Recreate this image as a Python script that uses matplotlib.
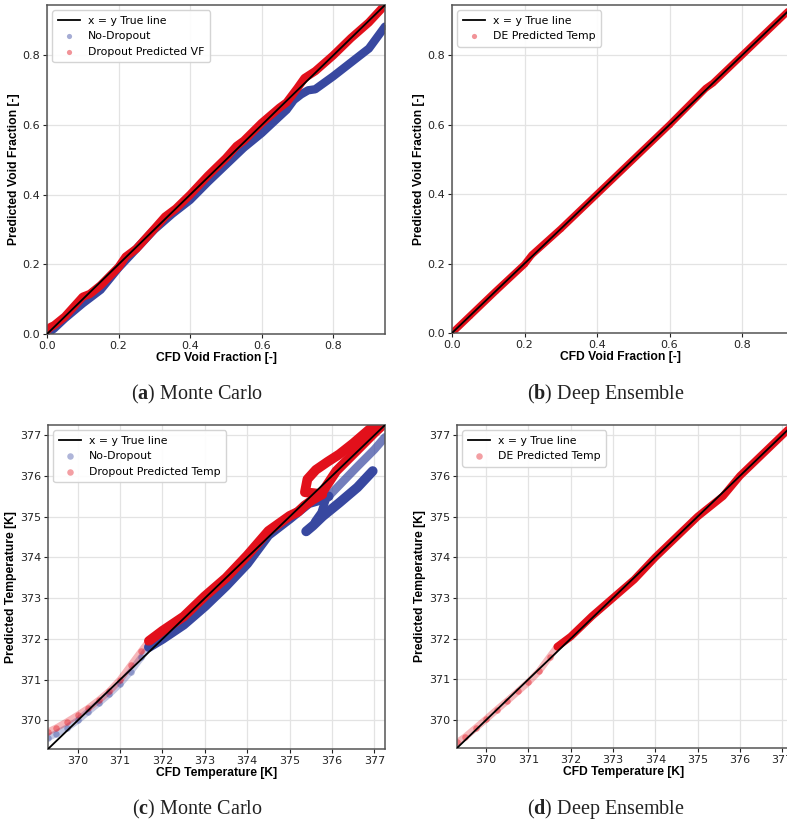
import matplotlib
matplotlib.use("Agg")
import matplotlib.pyplot as plt

plt.rcParams['font.family'] = ['DejaVu Sans']
plt.rcParams['mathtext.fontset'] = 'custom'
plt.rcParams['mathtext.rm'] = 'Liberation Serif'
plt.rcParams['mathtext.bf'] = 'Liberation Serif:bold'

# ---------------- data ----------------
# (a) Monte Carlo, void fraction
a_lim = [0.0, 0.945]
a_nodrop_x = [0.0, 0.02, 0.05, 0.1, 0.15, 0.2, 0.25, 0.3, 0.35, 0.4, 0.45, 0.5, 0.55, 0.6,
              0.65, 0.67, 0.69, 0.71, 0.73, 0.75, 0.8, 0.85, 0.9, 0.945]
a_nodrop_y = [0.0, 0.016, 0.045, 0.088, 0.127, 0.19, 0.245, 0.30, 0.345, 0.385, 0.437, 0.486,
              0.535, 0.577, 0.625, 0.644, 0.672, 0.688, 0.70, 0.703, 0.74, 0.78, 0.82, 0.883]
a_drop_x = [0.0, 0.01, 0.02, 0.05, 0.1, 0.12, 0.15, 0.2, 0.22, 0.25, 0.3, 0.33, 0.36, 0.4, 0.45,
            0.5, 0.53, 0.55, 0.6, 0.65, 0.67, 0.7, 0.72, 0.75, 0.8, 0.85, 0.9, 0.945]
a_drop_y = [0.01, 0.02, 0.025, 0.05, 0.107, 0.115, 0.14, 0.192, 0.222, 0.245, 0.302, 0.337, 0.36,
            0.40, 0.455, 0.505, 0.54, 0.555, 0.606, 0.65, 0.665, 0.706, 0.735, 0.755, 0.80, 0.85,
            0.895, 0.945]

# (b) Deep Ensemble, void fraction
b_xlim = [0.0, 0.931]
b_ylim = [0.0, 0.945]
b_de_x = [0.0, 0.05, 0.1, 0.12, 0.2, 0.22, 0.3, 0.4, 0.5, 0.6, 0.7, 0.72, 0.8, 0.9, 0.945]
b_de_y = [0.0, 0.05, 0.1, 0.12, 0.198, 0.225, 0.3, 0.4, 0.5, 0.6, 0.705, 0.72, 0.8, 0.9, 0.945]

# (c) Monte Carlo, temperature
c_lim = [369.3, 377.25]
c_drop_sparse_x = [369.3, 369.5, 369.75, 370.0, 370.25, 370.5, 370.75, 371.0, 371.25, 371.5, 371.68]
c_drop_sparse_y = [369.72, 369.82, 369.97, 370.13, 370.3, 370.5, 370.72, 371.0, 371.35, 371.7, 371.95]
c_drop_main_x = [371.68, 372.0, 372.5, 373.0, 373.5, 374.0, 374.5, 375.0, 375.2, 375.35, 375.55, 375.77]
c_drop_main_y = [371.95, 372.2, 372.55, 373.05, 373.5, 374.05, 374.65, 375.02, 375.12, 375.27, 375.42, 375.55]
c_drop_loop_x = [375.77, 375.55, 375.36, 375.42, 375.62, 375.9, 376.17, 376.5, 376.88, 377.25]
c_drop_loop_y = [375.55, 375.58, 375.6, 375.92, 376.15, 376.35, 376.53, 376.8, 377.14, 377.4]
c_drop_inner_x = [375.77, 376.1, 376.6, 377.0, 377.25]
c_drop_inner_y = [375.6, 376.12, 376.64, 377.06, 377.3]
c_nodrop_sparse_x = [369.3, 369.5, 369.75, 370.0, 370.25, 370.5, 370.75, 371.0, 371.25, 371.5, 371.68]
c_nodrop_sparse_y = [369.58, 369.68, 369.82, 370.0, 370.22, 370.43, 370.65, 370.9, 371.2, 371.55, 371.8]
c_nodrop_main_x = [371.68, 372.0, 372.5, 373.0, 373.5, 374.0, 374.5, 375.0, 375.45, 375.75, 375.92]
c_nodrop_main_y = [371.8, 372.0, 372.35, 372.8, 373.3, 373.85, 374.55, 374.95, 375.33, 375.42, 375.5]
c_nodrop_low_x = [375.39, 375.55, 375.78, 376.17, 376.6, 376.96]
c_nodrop_low_y = [374.64, 374.78, 375.01, 375.34, 375.72, 376.12]
c_nodrop_cross_x = [375.6, 375.75, 375.86]
c_nodrop_cross_y = [374.88, 375.1, 375.45]
c_nodrop_up_x = [375.92, 376.57, 377.0, 377.25]
c_nodrop_up_y = [375.5, 376.2, 376.65, 376.95]

# (d) Deep Ensemble, temperature
d_xlim = [369.31, 377.17]
d_ylim = [369.31, 377.25]
d_sparse_x = [369.32, 369.5, 369.75, 370.0, 370.25, 370.5, 370.75, 371.0, 371.25, 371.5, 371.68]
d_sparse_y = [369.45, 369.58, 369.8, 370.02, 370.25, 370.47, 370.7, 370.93, 371.2, 371.55, 371.8]
d_main_x = [371.68, 372.0, 372.5, 373.0, 373.5, 374.0, 374.5, 375.0, 375.3, 375.6, 375.8, 376.0, 376.5, 377.25]
d_main_y = [371.8, 372.05, 372.55, 373.0, 373.45, 374.0, 374.5, 375.0, 375.25, 375.5, 375.75, 376.0, 376.5, 377.25]

vf_ticks = [0.0, 0.2, 0.4, 0.6, 0.8]
t_ticks = [370, 371, 372, 373, 374, 375, 376, 377]
captions = [r'($\mathbf{a}$) Monte Carlo', r'($\mathbf{b}$) Deep Ensemble',
            r'($\mathbf{c}$) Monte Carlo', r'($\mathbf{d}$) Deep Ensemble']

RED = '#e2101b'
BLUE = '#3848a0'

W, H = 787, 822
fig = plt.figure(figsize=(W / 100, H / 100), dpi=100)


def px_axes(l, t, r, b):
    return fig.add_axes([l / W, 1 - b / H, (r - l) / W, (b - t) / H])


def style(ax, xlabel, ylabel):
    ax.set_facecolor('white')
    ax.grid(True, color='#e3e3e3', lw=0.9)
    ax.set_axisbelow(True)
    for s in ax.spines.values():
        s.set_color('#555555')
        s.set_linewidth(1.1)
    ax.tick_params(labelsize=8, colors='#222222', length=3, width=0.8, pad=2)
    ax.set_xlabel(xlabel, fontsize=8.7, fontweight='bold', family='Liberation Sans', labelpad=1)
    ax.set_ylabel(ylabel, fontsize=8.7, fontweight='bold', family='Liberation Sans', labelpad=2)


def band(ax, x, y, color, alpha=1.0, lw=6.0):
    ax.plot(x, y, '-', color=color, lw=lw, alpha=alpha, solid_capstyle='round',
            solid_joinstyle='round', zorder=2)


def legend(ax):
    ax.legend(loc='upper left', fontsize=7.8, frameon=True, edgecolor='#d0d0d0',
              framealpha=0.9, borderpad=0.5, labelspacing=0.5, handletextpad=0.8,
              borderaxespad=0.5)


# ---- (a)
ax = px_axes(47, 5, 385, 334)
ax.plot(a_lim, a_lim, color='black', lw=1.3, zorder=3, label='x = y True line')
ax.scatter(a_nodrop_x, a_nodrop_y, s=14, color=BLUE, alpha=0.45, lw=0, zorder=1, label='No-Dropout')
ax.scatter(a_drop_x, a_drop_y, s=14, color=RED, alpha=0.45, lw=0, zorder=1, label='Dropout Predicted VF')
band(ax, a_nodrop_x, a_nodrop_y, BLUE, lw=6)
band(ax, a_drop_x, a_drop_y, RED, lw=6)
ax.set_xlim(a_lim)
ax.set_ylim(a_lim)
ax.set_xticks(vf_ticks)
ax.set_yticks(vf_ticks)
style(ax, 'CFD Void Fraction [-]', 'Predicted Void Fraction [-]')
legend(ax)

# ---- (b)
ax = px_axes(452, 5, 789.5, 333)
ax.plot(b_ylim, b_ylim, color='black', lw=1.3, zorder=3, label='x = y True line')
ax.scatter(b_de_x, b_de_y, s=14, color=RED, alpha=0.45, lw=0, zorder=1, label='DE Predicted Temp')
band(ax, b_de_x, b_de_y, RED, lw=5)
ax.set_xlim(b_xlim)
ax.set_ylim(b_ylim)
ax.set_xticks(vf_ticks)
ax.set_yticks(vf_ticks)
style(ax, 'CFD Void Fraction [-]', 'Predicted Void Fraction [-]')
legend(ax)

# ---- (c)
ax = px_axes(48, 425, 385, 749)
ax.plot(c_lim, c_lim, color='black', lw=1.3, zorder=3, label='x = y True line')
ax.scatter(c_nodrop_sparse_x, c_nodrop_sparse_y, s=22, color=BLUE, alpha=0.4, lw=0, zorder=2.5,
           label='No-Dropout')
ax.scatter(c_drop_sparse_x, c_drop_sparse_y, s=22, color=RED, alpha=0.4, lw=0, zorder=2.5,
           label='Dropout Predicted Temp')
band(ax, c_nodrop_sparse_x, c_nodrop_sparse_y, BLUE, alpha=0.3, lw=5)
band(ax, c_drop_sparse_x, c_drop_sparse_y, RED, alpha=0.3, lw=5)
band(ax, c_nodrop_main_x, c_nodrop_main_y, BLUE, lw=7)
band(ax, c_nodrop_low_x, c_nodrop_low_y, BLUE, lw=7)
band(ax, c_nodrop_cross_x, c_nodrop_cross_y, BLUE, lw=6)
band(ax, c_nodrop_up_x, c_nodrop_up_y, BLUE, alpha=0.7, lw=6)
band(ax, c_drop_main_x, c_drop_main_y, RED, lw=7)
band(ax, c_drop_loop_x, c_drop_loop_y, RED, lw=7)
band(ax, c_drop_inner_x, c_drop_inner_y, RED, lw=7)
ax.set_xlim(c_lim)
ax.set_ylim(c_lim)
ax.set_xticks(t_ticks)
ax.set_yticks(t_ticks)
style(ax, 'CFD Temperature [K]', 'Predicted Temperature [K]')
legend(ax)

# ---- (d)
ax = px_axes(457, 425, 789.5, 748)
ax.plot(d_ylim, d_ylim, color='black', lw=1.3, zorder=3, label='x = y True line')
ax.scatter(d_sparse_x, d_sparse_y, s=22, color=RED, alpha=0.4, lw=0, zorder=2.5,
           label='DE Predicted Temp')
band(ax, d_sparse_x, d_sparse_y, RED, alpha=0.3, lw=5)
band(ax, d_main_x, d_main_y, RED, lw=5.5)
ax.set_xlim(d_xlim)
ax.set_ylim(d_ylim)
ax.set_xticks(t_ticks)
ax.set_yticks(t_ticks)
style(ax, 'CFD Temperature [K]', 'Predicted Temperature [K]')
legend(ax)

# captions
for txt, (cx, cy) in zip(captions, [(197, 394), (606, 394), (197, 809), (606, 809)]):
    fig.text(cx / W, 1 - cy / H, txt, ha='center', va='center', fontsize=14.5,
             family='Liberation Serif', color='#222222')

fig.savefig('out.png', dpi=100, facecolor='white')
